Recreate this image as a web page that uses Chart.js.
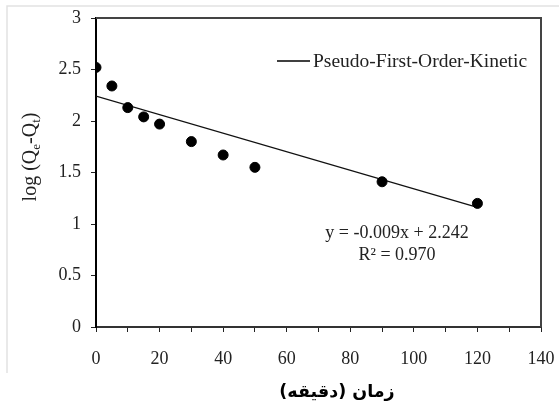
<!DOCTYPE html>
<html>
<head>
<meta charset="utf-8">
<script src="https://cdn.jsdelivr.net/npm/chart.js@4"></script>
<style>
  html, body { margin: 0; padding: 0; background: #fff; }
  #wrap { width: 559px; height: 405px; }
</style>
</head>
<body>
<div id="wrap"><canvas id="kineticChart"></canvas></div>
<script>
//DATA
//sampling time (min)
const times = [0, 5, 10, 15, 20, 30, 40, 50, 90, 120];
//log(Qe-Qt) measured
const logQ = [2.52, 2.34, 2.13, 2.04, 1.97, 1.80, 1.67, 1.55, 1.41, 1.20];

//linear fit y = slope*x + intercept
const slope = -0.009;
const intercept = 2.242;
const rSquared = 0.970;
const fitRange = [0, 120];

//axis ticks
const xTicks = [0, 20, 40, 60, 80, 100, 120, 140];
const yTicks = [0, 0.5, 1, 1.5, 2, 2.5, 3];

const legendText = 'Pseudo-First-Order-Kinetic';
const xTitle = 'زمان (دقیقه)';

const serif = '"Liberation Serif", "Times New Roman", serif';

//trend line points from the fit
const fitPoints = fitRange.map(x => ({ x: x, y: slope * x + intercept }));
const measured = times.map((t, i) => ({ x: t, y: logQ[i] }));

//extra drawing: frame, box, legend, equation, titles
const decorations = {
    id: 'decorations',
    beforeDraw(chart) {
        const ctx = chart.ctx;
        ctx.save();
        ctx.strokeStyle = '#e2e2e2';
        ctx.lineWidth = 1.5;
        ctx.beginPath();
        ctx.moveTo(7, 373);
        ctx.lineTo(7, 6);
        ctx.lineTo(559, 6);
        ctx.stroke();
        ctx.restore();
    },
    afterDatasetsDraw(chart) {
        const ctx = chart.ctx;
        const a = chart.chartArea;
        ctx.save();
        //plot box top and right
        ctx.strokeStyle = '#444';
        ctx.lineWidth = 2;
        ctx.beginPath();
        ctx.moveTo(a.left, a.top);
        ctx.lineTo(a.right, a.top);
        ctx.lineTo(a.right, a.bottom);
        ctx.stroke();

        //legend
        ctx.strokeStyle = '#000';
        ctx.lineWidth = 1.3;
        ctx.beginPath();
        ctx.moveTo(277, 61);
        ctx.lineTo(310, 61);
        ctx.stroke();
        ctx.fillStyle = '#222';
        ctx.font = '19.5px ' + serif;
        ctx.textBaseline = 'middle';
        ctx.textAlign = 'left';
        ctx.fillText(legendText, 313, 62);

        //equation
        ctx.font = '18px ' + serif;
        ctx.textAlign = 'center';
        const sign = intercept >= 0 ? '+' : '-';
        ctx.fillText('y = ' + slope.toFixed(3) + 'x ' + sign + ' ' + Math.abs(intercept).toFixed(3), 397, 233);
        ctx.fillText('R² = ' + rSquared.toFixed(3), 397, 255);

        //y title with subscripts
        ctx.translate(29, 157);
        ctx.rotate(-Math.PI / 2);
        const parts = [['log (Q', 20, 0], ['e', 13, 4], ['-Q', 20, 0], ['t', 13, 4], [')', 20, 0]];
        let total = 0;
        parts.forEach(p => { ctx.font = p[1] + 'px ' + serif; total += ctx.measureText(p[0]).width; });
        let x = -total / 2;
        ctx.textAlign = 'left';
        ctx.textBaseline = 'alphabetic';
        parts.forEach(p => {
            ctx.font = p[1] + 'px ' + serif;
            ctx.fillText(p[0], x, 7 + p[2]);
            x += ctx.measureText(p[0]).width;
        });
        ctx.setTransform(1, 0, 0, 1, 0, 0);

        //x title
        ctx.fillStyle = '#000';
        ctx.font = 'bold 17.5px "DejaVu Sans", sans-serif';
        ctx.direction = 'rtl';
        ctx.textAlign = 'center';
        ctx.textBaseline = 'middle';
        ctx.fillText(xTitle, 337, 392);
        ctx.restore();
    }
};

//CONFIG
const config = {
    type: 'scatter',
    data: {
        datasets: [
            {
                label: 'measured',
                data: measured,
                backgroundColor: '#000',
                borderColor: '#000',
                pointRadius: 5,
                pointHoverRadius: 5,
            },
            {
                label: legendText,
                data: fitPoints,
                showLine: true,
                borderColor: '#111',
                borderWidth: 1.3,
                pointRadius: 0,
                fill: false,
            }
        ]
    },
    options: {
        responsive: true,
        maintainAspectRatio: false,
        animation: false,
        layout: { padding: { left: 0, right: 18, top: 18, bottom: 0 } },
        plugins: {
            legend: { display: false },
            tooltip: { enabled: false },
        },
        scales: {
            x: {
                type: 'linear',
                min: 0,
                max: 140,
                afterFit(scale) {
                    scale.height = 78;
                    scale.paddingLeft = 0;
                    scale.paddingRight = 0;
                },
                afterBuildTicks(scale) {
                    const list = [];
                    for (let v = 0; v <= 140; v += 10) list.push({ value: v });
                    scale.ticks = list;
                },
                ticks: {
                    autoSkip: false,
                    maxRotation: 0,
                    padding: 16,
                    color: '#222',
                    font: { family: serif, size: 18 },
                    callback: v => xTicks.includes(v) ? String(v) : '',
                },
                grid: { drawOnChartArea: false, drawTicks: true, tickLength: 5, color: '#222' },
                border: { color: '#333', width: 2 },
            },
            y: {
                type: 'linear',
                min: 0,
                max: 3,
                afterFit(scale) {
                    scale.width = 96;
                    scale.paddingTop = 0;
                    scale.paddingBottom = 0;
                },
                afterBuildTicks(scale) {
                    scale.ticks = yTicks.map(v => ({ value: v }));
                },
                ticks: {
                    padding: 10,
                    color: '#222',
                    font: { family: serif, size: 18 },
                    callback: v => String(v),
                },
                grid: { drawOnChartArea: false, drawTicks: true, tickLength: 5, color: '#222' },
                border: { color: '#000', width: 2 },
            }
        }
    },
    plugins: [decorations]
};

//render
const kineticChart = new Chart(
    document.getElementById('kineticChart').getContext('2d'),
    config
);
</script>
</body>
</html>
